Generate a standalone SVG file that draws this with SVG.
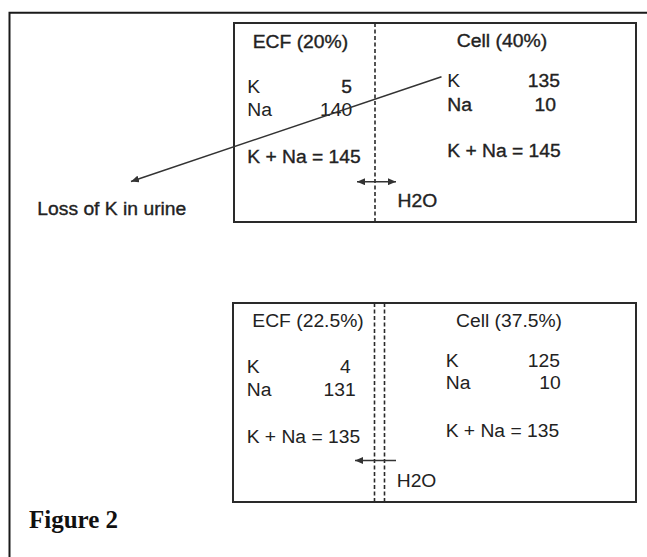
<svg xmlns="http://www.w3.org/2000/svg" width="647" height="557" viewBox="0 0 647 557">
  <style>
    .t { font-family: "Liberation Sans", Arial, sans-serif; font-size: 18px; fill: #222; }
    .b { stroke: #222; stroke-width: 0.35px; }
    .e { text-anchor: end; }
    .box { fill: none; stroke: #2a2a2a; stroke-width: 2; }
    .dash { stroke: #2a2a2a; stroke-width: 1.6; stroke-dasharray: 4 2.5; fill: none; }
    .conn { stroke: #333; stroke-width: 1.5; fill: none; }
    .cap { font-family: "Liberation Serif", "Times New Roman", serif; font-weight: bold; font-size: 25px; fill: #111; }
  </style>
  <defs>
    <marker id="ah" markerUnits="userSpaceOnUse" markerWidth="9" markerHeight="7" refX="8" refY="3.5" orient="auto-start-reverse">
      <path d="M0,0 L8,3.5 L0,7 z" fill="#333"/>
    </marker>
  </defs>
  <rect width="647" height="557" fill="#ffffff"/>
  <g id="frame">
    <path d="M9.5,557 L9.5,12.7 L647,12.7" fill="none" stroke="#1a1a1a" stroke-width="2"/>
  </g>
  <g id="top-box">
    <rect class="box" x="234" y="23" width="402" height="199"/>
    <line class="dash" x1="375" y1="23" x2="375" y2="222"/>
    <text class="t b" x="252.7" y="48.3" textLength="95.5" lengthAdjust="spacingAndGlyphs">ECF (20%)</text>
    <text class="t" x="247.3" y="93.3" textLength="12.9" lengthAdjust="spacingAndGlyphs">K</text>
    <text class="t b e" x="352" y="93.3" textLength="10.7" lengthAdjust="spacingAndGlyphs">5</text>
    <text class="t" x="247.3" y="116" textLength="24.7" lengthAdjust="spacingAndGlyphs">Na</text>
    <text class="t e" x="352.3" y="116" textLength="32.2" lengthAdjust="spacingAndGlyphs">140</text>
    <text class="t b" x="247.3" y="163.3" textLength="113.4" lengthAdjust="spacingAndGlyphs">K + Na = 145</text>
    <text class="t b" x="456.7" y="47.3" textLength="90.5" lengthAdjust="spacingAndGlyphs">Cell (40%)</text>
    <text class="t" x="447.3" y="86.7" textLength="12.9" lengthAdjust="spacingAndGlyphs">K</text>
    <text class="t b e" x="560" y="86.7" textLength="32.2" lengthAdjust="spacingAndGlyphs">135</text>
    <text class="t b" x="447.3" y="110.7" textLength="24.7" lengthAdjust="spacingAndGlyphs">Na</text>
    <text class="t b e" x="556" y="110.7" textLength="21.5" lengthAdjust="spacingAndGlyphs">10</text>
    <text class="t b" x="447.3" y="156.7" textLength="113.4" lengthAdjust="spacingAndGlyphs">K + Na = 145</text>
    <text class="t b" x="397.5" y="206.7" textLength="39.7" lengthAdjust="spacingAndGlyphs">H2O</text>
  </g>
  <g id="bottom-box">
    <rect class="box" x="233" y="303" width="403" height="199"/>
    <line class="dash" x1="374.5" y1="303" x2="374.5" y2="502"/>
    <line class="dash" x1="384.5" y1="303" x2="384.5" y2="502"/>
    <text class="t" x="252.3" y="327.3" textLength="111.5" lengthAdjust="spacingAndGlyphs">ECF (22.5%)</text>
    <text class="t" x="456" y="327.3" textLength="106" lengthAdjust="spacingAndGlyphs">Cell (37.5%)</text>
    <text class="t" x="246.7" y="373.3" textLength="12.9" lengthAdjust="spacingAndGlyphs">K</text>
    <text class="t e" x="350.7" y="373.3" textLength="10.7" lengthAdjust="spacingAndGlyphs">4</text>
    <text class="t" x="246.7" y="396" textLength="24.7" lengthAdjust="spacingAndGlyphs">Na</text>
    <text class="t e" x="355.7" y="396" textLength="32.2" lengthAdjust="spacingAndGlyphs">131</text>
    <text class="t" x="246.7" y="442.7" textLength="113.4" lengthAdjust="spacingAndGlyphs">K + Na = 135</text>
    <text class="t" x="445.7" y="366.7" textLength="12.9" lengthAdjust="spacingAndGlyphs">K</text>
    <text class="t e" x="560" y="366.7" textLength="32.2" lengthAdjust="spacingAndGlyphs">125</text>
    <text class="t" x="445.7" y="389.3" textLength="24.7" lengthAdjust="spacingAndGlyphs">Na</text>
    <text class="t e" x="560.7" y="389.3" textLength="21.5" lengthAdjust="spacingAndGlyphs">10</text>
    <text class="t" x="445.7" y="436.7" textLength="113.4" lengthAdjust="spacingAndGlyphs">K + Na = 135</text>
    <text class="t" x="396.7" y="487.3" textLength="39.7" lengthAdjust="spacingAndGlyphs">H2O</text>
  </g>
  <g id="loss-label">
    <text class="t b" x="37.3" y="215" textLength="149" lengthAdjust="spacingAndGlyphs">Loss of K in urine</text>
  </g>
  <g id="caption">
    <text class="cap" x="29" y="528">Figure 2</text>
  </g>
  <g id="connectors">
    <line class="conn" x1="441.5" y1="76.7" x2="131" y2="181.5" marker-end="url(#ah)"/>
    <line class="conn" x1="357" y1="181.7" x2="396" y2="181.7" marker-start="url(#ah)" marker-end="url(#ah)"/>
    <line class="conn" x1="396" y1="460.5" x2="355" y2="460.5" marker-end="url(#ah)"/>
  </g>
</svg>
